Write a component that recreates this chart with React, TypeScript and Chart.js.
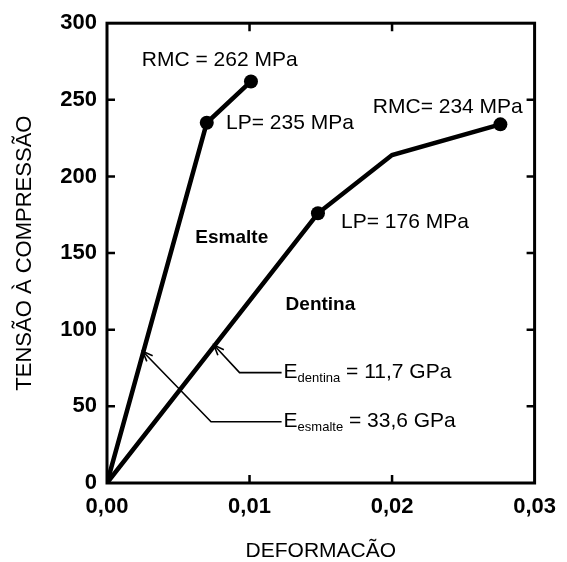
import React, { useEffect, useRef } from "react";
import { Chart, registerables } from "chart.js";

Chart.register(...registerables);

// ---- data ----
const enamelStrain = [0, 0.007, 0.0101];
const enamelStress = [0, 235, 262];
const enamelPointRadius = [0, 7, 7];
const dentinStrain = [0, 0.0148, 0.02, 0.0276];
const dentinStress = [0, 176, 214, 234];
const dentinPointRadius = [0, 7, 0, 7];
const xTickValues = [0, 0.01, 0.02, 0.03];
const yTickValues = [0, 50, 100, 150, 200, 250, 300];
const xTitle = "DEFORMACÃO";
const yTitle = "TENSÃO À COMPRESSÃO";

const FONT = "'Liberation Sans', Arial, Helvetica, sans-serif";

// annotation texts anchored in data coordinates (left edge, vertical middle)
const textLabels = [
  { text: "RMC = 262 MPa", x: 0.00244, y: 276, bold: false },
  { text: "LP= 235 MPa", x: 0.00835, y: 235, bold: false },
  { text: "RMC= 234 MPa", x: 0.01865, y: 245, bold: false },
  { text: "LP= 176 MPa", x: 0.01642, y: 170, bold: false },
  { text: "Esmalte", x: 0.0062, y: 160, bold: true },
  { text: "Dentina", x: 0.01253, y: 116, bold: true },
];

const arrowNotes = [
  { path: [[0.0075, 90], [0.0093, 72], [0.01225, 72]], main: "E", sub: "dentina", rest: " = 11,7 GPa" },
  { path: [[0.0025, 86], [0.0073, 40], [0.01225, 40]], main: "E", sub: "esmalte", rest: " = 33,6 GPa" },
];

const framePlugin = {
  id: "framePlugin",
  afterDatasetsDraw(chart: any) {
    const { ctx, chartArea, scales } = chart;
    const xs = scales.x;
    const ys = scales.y;
    const { left, right, top, bottom } = chartArea;
    ctx.save();
    // frame
    ctx.strokeStyle = "#000";
    ctx.lineWidth = 3;
    ctx.strokeRect(left, top, right - left, bottom - top);
    // inward ticks
    ctx.lineWidth = 2.5;
    const tl = 8;
    yTickValues.forEach((v) => {
      if (v === 0 || v === 300) return;
      const py = ys.getPixelForValue(v);
      ctx.beginPath();
      ctx.moveTo(left, py);
      ctx.lineTo(left + tl, py);
      ctx.moveTo(right, py);
      ctx.lineTo(right - tl, py);
      ctx.stroke();
    });
    xTickValues.forEach((v) => {
      if (v === 0 || v === 0.03) return;
      const px = xs.getPixelForValue(v);
      ctx.beginPath();
      ctx.moveTo(px, bottom);
      ctx.lineTo(px, bottom - tl);
      ctx.moveTo(px, top);
      ctx.lineTo(px, top + tl);
      ctx.stroke();
    });

    // text labels
    ctx.fillStyle = "#000";
    ctx.textBaseline = "middle";
    ctx.textAlign = "left";
    textLabels.forEach((l) => {
      ctx.font = (l.bold ? "bold 19px " : "21px ") + FONT;
      ctx.fillText(l.text, xs.getPixelForValue(l.x), ys.getPixelForValue(l.y));
    });

    // arrows with notes
    arrowNotes.forEach((a) => {
      const pts = a.path.map(([x, y]) => [xs.getPixelForValue(x), ys.getPixelForValue(y)]);
      ctx.lineWidth = 1.6;
      ctx.beginPath();
      ctx.moveTo(pts[0][0], pts[0][1]);
      for (let i = 1; i < pts.length; i++) ctx.lineTo(pts[i][0], pts[i][1]);
      ctx.stroke();
      // open arrow head at pts[0]
      const ang = Math.atan2(pts[0][1] - pts[1][1], pts[0][0] - pts[1][0]);
      const hl = 11;
      const spread = 0.38;
      ctx.beginPath();
      ctx.moveTo(pts[0][0] - hl * Math.cos(ang - spread), pts[0][1] - hl * Math.sin(ang - spread));
      ctx.lineTo(pts[0][0], pts[0][1]);
      ctx.lineTo(pts[0][0] - hl * Math.cos(ang + spread), pts[0][1] - hl * Math.sin(ang + spread));
      ctx.stroke();
      // text
      const end = pts[pts.length - 1];
      let tx = end[0] + 2;
      const ty = end[1];
      ctx.font = "21px " + FONT;
      ctx.fillText(a.main, tx, ty);
      tx += ctx.measureText(a.main).width;
      ctx.font = "13px " + FONT;
      ctx.fillText(a.sub, tx, ty + 6);
      tx += ctx.measureText(a.sub).width;
      ctx.font = "21px " + FONT;
      ctx.fillText(a.rest, tx, ty);
    });
    ctx.restore();
  },
};

export default function App() {
  const canvasRef = useRef<HTMLCanvasElement | null>(null);

  useEffect(() => {
    document.body.style.margin = "0";
    const canvas = canvasRef.current;
    if (!canvas) return;
    const chart = new Chart(canvas, {
      type: "line",
      data: {
        datasets: [
          {
            label: "Esmalte",
            data: enamelStrain.map((x, i) => ({ x, y: enamelStress[i] })),
            borderColor: "#000",
            backgroundColor: "#000",
            borderWidth: 4.5,
            pointRadius: enamelPointRadius,
            pointBorderWidth: 0,
            pointBackgroundColor: "#000",
            tension: 0,
          },
          {
            label: "Dentina",
            data: dentinStrain.map((x, i) => ({ x, y: dentinStress[i] })),
            borderColor: "#000",
            backgroundColor: "#000",
            borderWidth: 4.5,
            pointRadius: dentinPointRadius,
            pointBorderWidth: 0,
            pointBackgroundColor: "#000",
            tension: 0,
          },
        ],
      },
      options: {
        animation: false,
        responsive: false,
        maintainAspectRatio: false,
        layout: { padding: { top: 23, right: 29, left: 0, bottom: 0 } },
        plugins: { legend: { display: false }, tooltip: { enabled: false } },
        scales: {
          x: {
            type: "linear",
            min: 0,
            max: 0.03,
            afterBuildTicks: (s: any) => {
              s.ticks = xTickValues.map((v) => ({ value: v }));
            },
            afterFit: (s: any) => {
              s.height = 79;
            },
            grid: { display: false, drawTicks: false },
            border: { display: false },
            ticks: {
              color: "#000",
              padding: 11,
              font: { family: FONT, size: 22, weight: "bold" },
              maxRotation: 0,
              callback: (v: any) => Number(v).toFixed(2).replace(".", ","),
            },
            title: {
              display: true,
              text: xTitle,
              color: "#000",
              font: { family: FONT, size: 21, lineHeight: 1 },
              padding: { top: 0, bottom: 0 },
            },
          },
          y: {
            type: "linear",
            min: 0,
            max: 300,
            afterBuildTicks: (s: any) => {
              s.ticks = yTickValues.map((v) => ({ value: v }));
            },
            afterFit: (s: any) => {
              s.width = 107;
            },
            grid: { display: false, drawTicks: false },
            border: { display: false },
            ticks: {
              color: "#000",
              padding: 10,
              font: { family: FONT, size: 22, weight: "bold" },
              callback: (v: any) => String(v),
            },
            title: {
              display: true,
              text: yTitle,
              color: "#000",
              font: { family: FONT, size: 22, lineHeight: 1 },
              padding: { top: 14, bottom: 0 },
            },
          },
        },
      } as any,
      plugins: [framePlugin],
    });
    return () => chart.destroy();
  }, []);

  return (
    <div style={{ width: 567, height: 562, background: "#fff" }}>
      <canvas ref={canvasRef} width={567} height={562} style={{ display: "block" }} />
    </div>
  );
}
